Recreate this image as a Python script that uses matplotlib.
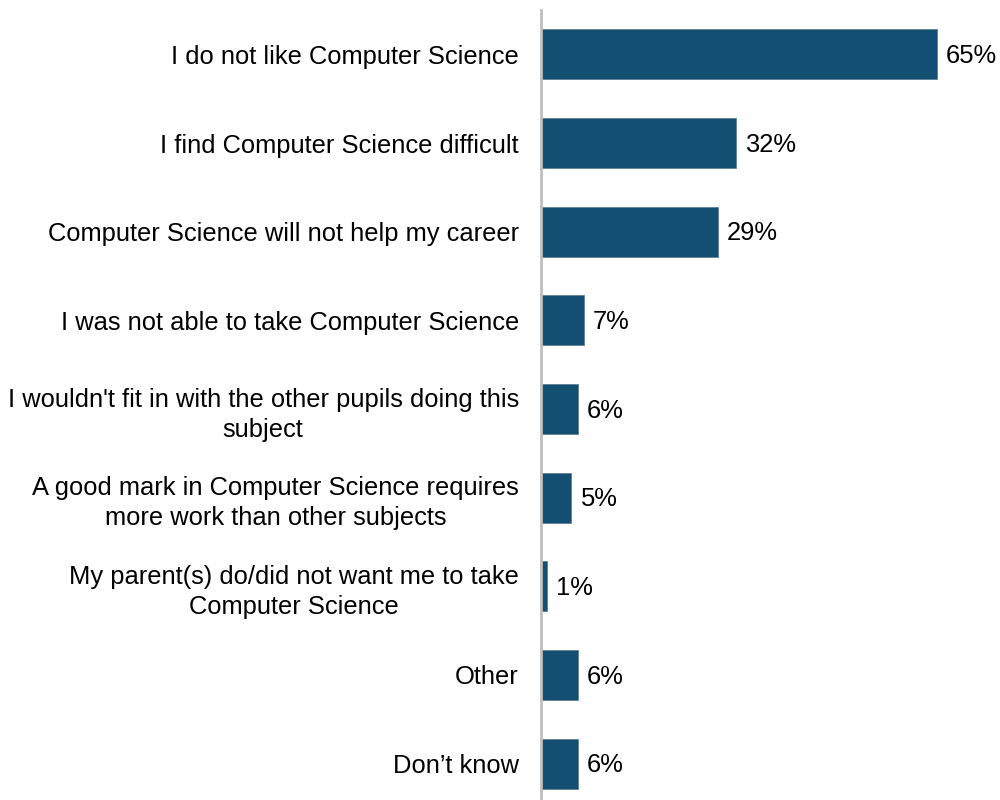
import matplotlib
matplotlib.use("Agg")
import matplotlib.pyplot as plt

plt.rcParams['font.family'] = ['Liberation Sans', 'DejaVu Sans']

categories = [
    "I do not like Computer Science",
    "I find Computer Science difficult",
    "Computer Science will not help my career",
    "I was not able to take Computer Science",
    "I wouldn't fit in with the other pupils doing this\nsubject",
    "A good mark in Computer Science requires\nmore work than other subjects",
    "My parent(s) do/did not want me to take\nComputer Science",
    "Other",
    "Don\u2019t know",
]
values = [65, 32, 29, 7, 6, 5, 1, 6, 6]
value_labels = [f"{v}%" for v in values]

bar_color = "#124F73"
axis_color = "#BFBFBF"
font_size = 18.4

fig = plt.figure(figsize=(10, 8), dpi=100)
ax = fig.add_axes([0.541, -0.01, 0.4265, 0.9975])

y = list(range(len(categories)))
ax.barh(y, values, height=0.565, color=bar_color, edgecolor="#5F7F95", linewidth=0.6, zorder=2)

for yi, v, lab in zip(y, values, value_labels):
    ax.text(v + 1.5, yi + 0.02, lab, va="center", ha="left", fontsize=font_size, color="#000000")

ax.set_ylim(len(categories) - 0.5, -0.5)
ax.set_xlim(0, 70)
ax.set_yticks(y)
ax.set_yticklabels(categories, fontsize=font_size, multialignment="center", linespacing=1.33)
ax.tick_params(axis="y", length=0, pad=16)
ax.set_xticks([])

for side in ["top", "right", "bottom"]:
    ax.spines[side].set_visible(False)
ax.spines["left"].set_color(axis_color)
ax.spines["left"].set_linewidth(2)
ax.spines["left"].set_zorder(3)

fig.savefig("out.png", dpi=100)
